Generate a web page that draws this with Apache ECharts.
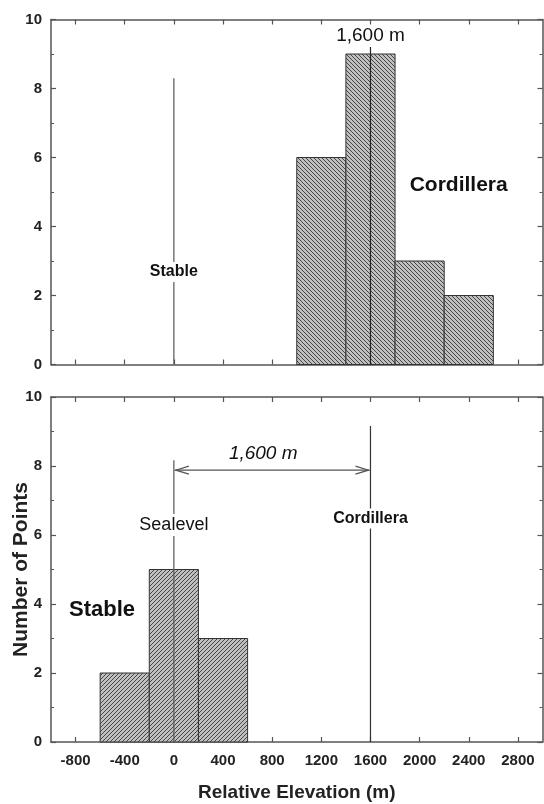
<!DOCTYPE html>
<html><head><meta charset="utf-8">
<script src="https://cdn.jsdelivr.net/npm/echarts@6/dist/echarts.min.js"></script>
<style>html,body{margin:0;padding:0;background:#fff}#c{width:544px;height:804px}</style>
</head><body><div id="c"></div>
<script>
// ---- data ----
const topBinStart = [1000, 1400, 1800, 2200];
const topBinEnd   = [1400, 1800, 2200, 2600];
const topCounts   = [6, 9, 3, 2];
const botBinStart = [-600, -200, 200];
const botBinEnd   = [-200, 200, 600];
const botCounts   = [2, 5, 3];
const xTickValues = [-800, -400, 0, 400, 800, 1200, 1600, 2000, 2400, 2800];
const stableElev = 0;
const cordilleraElev = 1600;

function makePattern(dir) {
  const s = 4;
  const cv = document.createElement('canvas');
  cv.width = s; cv.height = s;
  const g = cv.getContext('2d');
  g.fillStyle = '#c0c0c0';
  g.fillRect(0, 0, s, s);
  g.strokeStyle = '#454545';
  g.lineWidth = 1.0;
  for (let k = -s; k <= s; k += s) {
    g.beginPath();
    if (dir === 'back') { g.moveTo(k, 0); g.lineTo(k + s, s); }
    else { g.moveTo(k, s); g.lineTo(k + s, 0); }
    g.stroke();
  }
  return { image: cv, repeat: 'repeat' };
}
const patTop = makePattern('back');
const patBot = makePattern('fwd');

const FONT = '"Liberation Sans", Arial, sans-serif';
const axisCol = '#555';

function xAx(gridIndex, pos, labels) {
  return {
    type: 'value', gridIndex, position: pos, min: -1000, max: 3000,
    axisLine: { show: true, onZero: false, lineStyle: { color: axisCol, width: 1.5 } },
    axisTick: { show: true, inside: true, length: 5, customValues: xTickValues, lineStyle: { color: axisCol, width: 1.2 } },
    axisLabel: { show: labels, customValues: xTickValues, formatter: v => String(v), fontFamily: FONT, fontWeight: 'bold', fontSize: 15, color: '#222', margin: 11 },
    splitLine: { show: false }
  };
}
function yAx(gridIndex, pos, labels) {
  return {
    type: 'value', gridIndex, position: pos, min: 0, max: 10, interval: 2,
    axisLine: { show: true, onZero: false, lineStyle: { color: axisCol, width: 1.5 } },
    axisTick: { show: true, inside: true, length: 5, lineStyle: { color: axisCol, width: 1.2 } },
    minorTick: { show: true, splitNumber: 2, length: 3, lineStyle: { color: axisCol, width: 1 } },
    axisLabel: { show: labels, fontFamily: FONT, fontWeight: 'bold', fontSize: 15, color: '#222', margin: 9 },
    splitLine: { show: false }
  };
}

const xAxes = [xAx(0, 'bottom', false), xAx(0, 'top', false), xAx(1, 'bottom', true), xAx(1, 'top', false)];
xAxes[2].name = 'Relative Elevation (m)';
xAxes[2].nameLocation = 'middle';
xAxes[2].nameGap = 41;
xAxes[2].nameTextStyle = { fontFamily: FONT, fontWeight: 'bold', fontSize: 19, color: '#222' };
const yAxes = [yAx(0, 'left', true), yAx(0, 'right', false), yAx(1, 'left', true), yAx(1, 'right', false)];
yAxes[2].name = 'Number of Points';
yAxes[2].nameLocation = 'middle';
yAxes[2].nameGap = 19;
yAxes[2].nameMoveOverlap = false;
yAxes[2].nameRotate = 90;
yAxes[2].nameTextStyle = { fontFamily: FONT, fontWeight: 'bold', fontSize: 21, color: '#222' };

function barSeries(xi, yi, starts, ends, counts, pat) {
  return {
    type: 'custom', xAxisIndex: xi, yAxisIndex: yi, z: 2,
    data: starts.map((s, i) => [s, ends[i], counts[i]]),
    encode: { x: [0, 1], y: 2 },
    renderItem: function (params, api) {
      const p0 = api.coord([api.value(0), api.value(2)]);
      const p1 = api.coord([api.value(1), 0]);
      return { type: 'rect', shape: { x: p0[0], y: p0[1], width: p1[0] - p0[0], height: p1[1] - p0[1] },
        style: { fill: pat, stroke: '#333', lineWidth: 1 } };
    }
  };
}
function vline(xi, yi, x, yTop, col) {
  return { type: 'line', xAxisIndex: xi, yAxisIndex: yi, z: 3, symbol: 'none', silent: true,
    data: [[x, 0], [x, yTop]], lineStyle: { color: col, width: 1.2 } };
}
function textSeries(xi, yi, items) {
  return {
    type: 'custom', xAxisIndex: xi, yAxisIndex: yi, z: 5, silent: true,
    data: items.map(t => [t.x, t.y]),
    renderItem: function (params, api) {
      const t = items[params.dataIndex];
      const p = api.coord([api.value(0), api.value(1)]);
      return { type: 'text', x: p[0], y: p[1], style: {
        text: t.text, align: 'center', verticalAlign: 'middle', fill: '#111',
        font: (t.style || 'normal') + ' ' + (t.weight || 'normal') + ' ' + t.size + 'px ' + FONT,
        backgroundColor: t.bg ? '#fff' : null, padding: t.bg ? [2, 1] : 0 } };
    }
  };
}
const arrowSeries = {
  type: 'custom', xAxisIndex: 2, yAxisIndex: 2, z: 4, silent: true,
  data: [[stableElev, cordilleraElev, 7.88]],
  renderItem: function (params, api) {
    const a = api.coord([api.value(0), api.value(2)]);
    const b = api.coord([api.value(1), api.value(2)]);
    const L = 13, H = 4;
    const st = { stroke: '#555', lineWidth: 1.2, fill: null };
    return { type: 'group', children: [
      { type: 'line', shape: { x1: a[0] + 1, y1: a[1], x2: b[0] - 1, y2: b[1] }, style: st },
      { type: 'polyline', shape: { points: [[a[0] + 2 + L, a[1] - H], [a[0] + 2, a[1]], [a[0] + 2 + L, a[1] + H]] }, style: st },
      { type: 'polyline', shape: { points: [[b[0] - 2 - L, b[1] - H], [b[0] - 2, b[1]], [b[0] - 2 - L, b[1] + H]] }, style: st }
    ] };
  }
};

const option = {
  backgroundColor: '#fff',
  animation: false,
  grid: [
    { left: 51, right: 1.5, top: 19.5, height: 345, containLabel: false, outerBoundsMode: 'none' },
    { left: 51, right: 1.5, top: 397, height: 345, containLabel: false, outerBoundsMode: 'none' }
  ],
  xAxis: xAxes,
  yAxis: yAxes,
  series: [
    barSeries(0, 0, topBinStart, topBinEnd, topCounts, patTop),
    barSeries(2, 2, botBinStart, botBinEnd, botCounts, patBot),
    vline(0, 0, stableElev, 8.3, '#555'),
    vline(0, 0, cordilleraElev, 9.2, '#222'),
    vline(2, 2, stableElev, 8.17, '#555'),
    vline(2, 2, cordilleraElev, 9.16, '#333'),
    arrowSeries,
    textSeries(0, 0, [
      { text: 'Stable', x: 0, y: 2.68, size: 16, weight: 'bold', bg: true },
      { text: '1,600 m', x: 1600, y: 9.52, size: 19 },
      { text: 'Cordillera', x: 2318, y: 5.2, size: 21, weight: 'bold' }
    ]),
    textSeries(2, 2, [
      { text: 'Sealevel', x: 0, y: 6.29, size: 18, bg: true },
      { text: 'Cordillera', x: 1600, y: 6.48, size: 16, weight: 'bold', bg: true },
      { text: '1,600 m', x: 727, y: 8.36, size: 19, style: 'italic' },
      { text: 'Stable', x: -585, y: 3.84, size: 22, weight: 'bold' }
    ])
  ]
};
const chart = echarts.init(document.getElementById('c'), null, { renderer: 'canvas' });
chart.setOption(option);
</script>
</body></html>
